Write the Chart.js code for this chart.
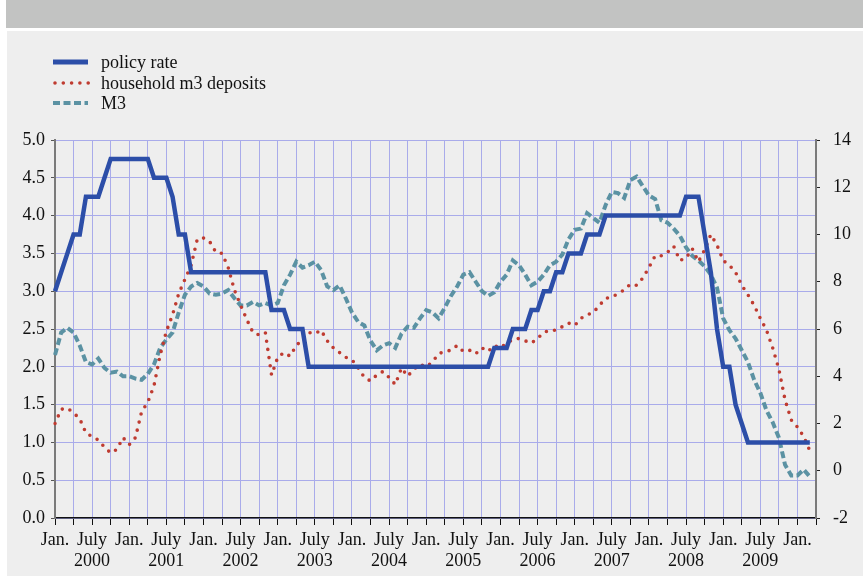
<!DOCTYPE html>
<html>
<head>
<meta charset="utf-8">
<script src="https://cdn.jsdelivr.net/npm/chart.js@4/dist/chart.umd.min.js"></script>
<style>
  html, body { margin:0; padding:0; background:#ffffff; width:863px; height:576px; overflow:hidden; }
  #band { position:absolute; left:6px; top:0; width:857px; height:28px; background:#c2c3c2; }
  #panel { position:absolute; left:7px; top:31px; width:856px; height:545px; background:#eeeeee; }
  #c { position:absolute; left:0; top:0; }
  .lg { position:absolute; left:53px; height:20px; font-family:"Liberation Serif","Times New Roman",serif; font-size:18px; color:#111; white-space:nowrap; }
  .lg svg { position:absolute; left:0; top:0; }
  .lg span { position:absolute; left:48px; top:0; line-height:20px; }
</style>
</head>
<body>
<div id="band"></div>
<div id="panel"></div>
<canvas id="c" width="863" height="576"></canvas>
<div class="lg" style="top:52px;"><svg width="40" height="20"><line x1="0" y1="10" x2="35" y2="10" stroke="#2c4ea8" stroke-width="5"/></svg><span>policy rate</span></div>
<div class="lg" style="top:73px;"><svg width="40" height="20"><line x1="2" y1="10" x2="36" y2="10" stroke="#bf3b30" stroke-width="3.6" stroke-linecap="round" stroke-dasharray="0 8.3"/></svg><span>household m3 deposits</span></div>
<div class="lg" style="top:93px;"><svg width="40" height="20"><line x1="0" y1="10" x2="35" y2="10" stroke="#5b92a3" stroke-width="4" stroke-dasharray="7 3.5"/></svg><span>M3</span></div>
<script>
// ---- data (monthly, Jan 2000 onwards) ----
const years = [2000,2001,2002,2003,2004,2005,2006,2007,2008,2009,2010];
const monthNames = ["Jan.","Feb.","Mar.","Apr.","May","June","July","Aug.","Sep.","Oct.","Nov.","Dec."];

const policyRate = [
  3.0,3.25,3.5,3.75,3.75,4.25,4.25,4.25,4.5,4.75,4.75,4.75,
  4.75,4.75,4.75,4.75,4.5,4.5,4.5,4.25,3.75,3.75,3.25,3.25,
  3.25,3.25,3.25,3.25,3.25,3.25,3.25,3.25,3.25,3.25,3.25,2.75,
  2.75,2.75,2.5,2.5,2.5,2.0,2.0,2.0,2.0,2.0,2.0,2.0,
  2.0,2.0,2.0,2.0,2.0,2.0,2.0,2.0,2.0,2.0,2.0,2.0,
  2.0,2.0,2.0,2.0,2.0,2.0,2.0,2.0,2.0,2.0,2.0,2.25,
  2.25,2.25,2.5,2.5,2.5,2.75,2.75,3.0,3.0,3.25,3.25,3.5,
  3.5,3.5,3.75,3.75,3.75,4.0,4.0,4.0,4.0,4.0,4.0,4.0,
  4.0,4.0,4.0,4.0,4.0,4.0,4.25,4.25,4.25,3.75,3.25,2.5,
  2.0,2.0,1.5,1.25,1.0,1.0,1.0,1.0,1.0,1.0,1.0,1.0,
  1.0,1.0,1.0
];

const householdDeposits = [
  2.0,2.6,2.65,2.45,2.2,1.6,1.45,1.3,1.0,0.75,0.9,1.4,
  1.1,1.4,2.5,2.9,3.6,4.9,5.9,6.6,7.5,8.1,8.7,9.8,
  9.85,9.7,9.25,9.2,8.6,7.65,7.0,6.4,5.85,5.75,5.85,4.05,
  4.8,5.0,4.85,5.3,5.55,5.85,5.8,5.95,5.5,5.2,5.0,4.8,
  4.7,4.35,3.95,3.8,4.05,4.2,3.95,3.65,4.35,4.0,4.3,4.5,
  4.4,4.6,4.95,5.05,5.1,5.3,5.05,5.1,4.95,5.2,5.05,5.3,
  5.2,5.4,5.55,5.6,5.5,5.4,5.6,5.85,5.95,5.95,6.1,6.25,
  6.15,6.45,6.6,6.7,7.0,7.3,7.35,7.5,7.65,7.9,7.85,8.15,
  8.6,9.1,9.1,9.25,9.5,8.9,9.0,9.4,8.85,9.35,10.0,9.55,
  8.9,8.7,8.4,7.85,7.45,7.0,6.45,5.95,5.2,4.3,3.0,2.15,
  1.85,1.45,0.85
];

const m3 = [
  4.9,5.85,6.05,5.85,5.3,4.6,4.5,4.75,4.35,4.15,4.2,4.0,
  4.0,3.9,3.85,4.1,4.5,5.2,5.55,5.85,6.7,7.45,7.8,7.95,
  7.8,7.5,7.45,7.5,7.65,7.3,7.0,7.0,7.15,7.0,7.1,7.0,
  7.1,7.85,8.3,8.85,8.6,8.7,8.85,8.5,7.8,7.65,7.85,7.3,
  6.7,6.3,6.15,5.5,5.1,5.3,5.4,5.2,5.8,6.1,6.05,6.45,
  6.8,6.7,6.45,6.9,7.4,7.8,8.3,8.4,8.0,7.6,7.4,7.55,
  8.0,8.3,8.9,8.7,8.3,7.85,8.0,8.3,8.7,8.85,9.15,9.8,
  10.2,10.25,10.9,10.7,10.5,11.25,11.8,11.75,11.55,12.3,12.45,12.05,
  11.65,11.5,10.6,10.5,10.25,9.95,9.45,9.1,8.9,8.65,8.3,7.75,
  6.45,5.95,5.6,5.1,4.6,3.85,3.3,2.55,2.05,1.4,0.25,-0.2,
  -0.2,0.05,-0.25
];

const leftTicks = { min: 0, max: 5, step: 0.5 };
const rightTicks = { min: -2, max: 14, step: 2 };

// categories: Jan 2000 .. Apr 2010
const categories = [];
years.forEach(y => monthNames.forEach(m => categories.push(m + " " + y)));
categories.length = 124;

const GRID = "#a9abea";
const FONT = { family: "'Liberation Serif','Times New Roman',serif", size: 18, lineHeight: 1.15 };

new Chart(document.getElementById("c"), {
  type: "line",
  data: {
    labels: categories,
    datasets: [
      { label: "policy rate", data: policyRate, yAxisID: "y", borderColor: "#2c4ea8", borderWidth: 4.5,
        pointRadius: 0, tension: 0, borderJoinStyle: "miter", fill: false },
      { label: "household m3 deposits", data: householdDeposits, yAxisID: "y1", borderColor: "#bf3b30", borderWidth: 3.6,
        borderDash: [0, 8.3], borderCapStyle: "round", pointRadius: 0, tension: 0, fill: false },
      { label: "M3", data: m3, yAxisID: "y1", borderColor: "#5b92a3", borderWidth: 4,
        borderDash: [7, 3.5], borderCapStyle: "butt", pointRadius: 0, tension: 0, fill: false }
    ]
  },
  options: {
    responsive: false,
    animation: false,
    events: [],
    layout: { padding: { top: 140, left: 0, right: 0, bottom: 0 } },
    plugins: { legend: { display: false }, tooltip: { enabled: false }, title: { display: false } },
    scales: {
      x: {
        type: "category",
        offset: false,
        afterFit: s => { s.height = 58; },
        border: { color: "#111", width: 1.5 },
        grid: {
          color: ctx => (ctx.index % 3 === 0 ? GRID : "rgba(0,0,0,0)"),
          tickColor: ctx => (ctx.index % 3 === 0 ? "#111" : "rgba(0,0,0,0)"),
          tickLength: 7, lineWidth: 1
        },
        ticks: {
          autoSkip: false, maxRotation: 0, minRotation: 0, padding: 5, color: "#111", font: FONT,
          callback: function (v, i) {
            if (i % 12 === 0) return "Jan.";
            if (i % 12 === 6) return ["July", String(years[Math.floor(i / 12)])];
            return "";
          }
        }
      },
      y: {
        position: "left",
        min: leftTicks.min, max: leftTicks.max,
        afterFit: s => { s.width = 55; },
        border: { color: "#7a7a7a", width: 2 },
        grid: { color: GRID, lineWidth: 1, tickColor: "#555", tickLength: 4 },
        ticks: { stepSize: leftTicks.step, padding: 6, color: "#111", font: FONT,
          callback: v => Number(v).toFixed(1) }
      },
      y1: {
        position: "right",
        min: rightTicks.min, max: rightTicks.max,
        afterFit: s => { s.width = 47; },
        border: { color: "#7a7a7a", width: 2 },
        grid: { drawOnChartArea: false, tickColor: "#222", tickLength: 4 },
        ticks: { stepSize: rightTicks.step, padding: 13, color: "#111", font: FONT }
      }
    }
  }
});
</script>
</body>
</html>
